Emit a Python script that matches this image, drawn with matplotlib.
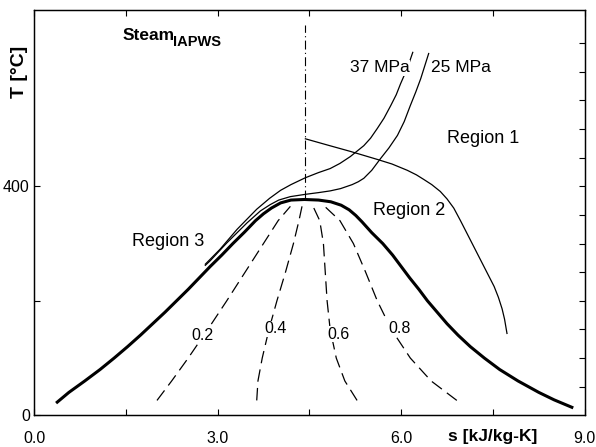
import matplotlib
matplotlib.use("Agg")
import matplotlib.pyplot as plt

# ---- data ----
dome_s = [0.38, 0.57, 0.83, 1.08, 1.31, 1.53, 1.74, 1.94, 2.14, 2.33, 2.52, 2.70,
          2.88, 3.07, 3.25, 3.44, 3.62, 3.75, 3.88, 4.03, 4.20, 4.42,
          4.65, 4.85, 5.02, 5.15, 5.26, 5.36, 5.52, 5.70, 5.86, 6.00, 6.14, 6.29,
          6.43, 6.59, 6.75, 6.93, 7.13, 7.36, 7.61, 7.91, 8.25, 8.50, 8.79]
dome_T = [23, 40, 60, 80, 100, 120, 140, 160, 180, 200, 220, 240,
          260, 280, 300, 320, 340, 352, 362, 371, 376, 377,
          376, 373, 367, 359, 349, 338, 319, 300, 280, 260, 240, 220,
          200, 180, 160, 140, 120, 100, 80, 60, 40, 27, 14]

qual_T = [26, 60, 100, 150, 200, 250, 300, 340, 365]
q02_s = [2.01, 2.25, 2.52, 2.84, 3.15, 3.45, 3.75, 3.99, 4.19]
q04_s = [3.64, 3.66, 3.73, 3.84, 3.97, 4.11, 4.24, 4.33, 4.38]
q06_s = [5.28, 5.08, 4.94, 4.84, 4.79, 4.76, 4.73, 4.67, 4.56]
q08_s = [6.91, 6.49, 6.15, 5.84, 5.61, 5.42, 5.22, 5.00, 4.75]
qual_labels = ["0.2", "0.4", "0.6", "0.8"]
qual_label_s = [2.76, 3.94, 4.97, 5.97]
qual_label_T = [140, 151, 142, 152]

p25_s = [2.80, 2.88, 3.15, 3.48, 3.70, 3.86, 4.00, 4.19, 4.435, 4.65, 4.84, 5.01,
         5.20, 5.30, 5.39, 5.52, 5.66, 5.80, 5.94, 6.05, 6.15, 6.24, 6.32, 6.45]
p25_T = [262, 270, 301, 336, 357, 368, 376, 382, 386, 389, 392, 396,
         403, 408, 414, 428, 448, 467, 489, 513, 541, 565, 588, 632]
p37_s = [2.80, 3.04, 3.32, 3.64, 3.85, 4.03, 4.20, 4.435, 4.65, 4.84, 5.00, 5.17,
         5.39, 5.50, 5.61, 5.72, 5.83, 5.92, 5.99, 6.10, 6.19]
p37_T = [264, 290, 325, 360, 379, 393, 403, 415, 424, 431, 440, 452,
         471, 484, 501, 519, 541, 560, 579, 606, 634]

bound_s = [4.435, 4.80, 5.17, 5.61, 5.85, 6.10, 6.25, 6.37, 6.50, 6.64, 6.75, 6.86,
           6.97, 7.08, 7.19, 7.30, 7.41, 7.52, 7.59, 7.65, 7.69, 7.73]
bound_T = [483, 472, 461, 447, 439, 428, 420, 412, 403, 391, 378, 362,
           340, 317, 294, 271, 248, 225, 206, 186, 168, 143]

crit_s = [4.435, 4.435]
crit_T = [377, 682]

xticks = [0.0, 1.5, 3.0, 4.5, 6.0, 7.5, 9.0]
xticklabels = ["0.0", "", "3.0", "", "6.0", "", "9.0"]
yticks = [0, 200, 400]
yticklabels = ["0", "", "400"]
rticks = [50, 100, 150, 200, 250, 300, 350, 400, 450, 500, 550, 600, 650]

REG = ["Liberation Sans", "DejaVu Sans"]

W, H = 596, 447
fig = plt.figure(figsize=(W / 100, H / 100), dpi=100)
ax = fig.add_axes([34 / W, (H - 415.3) / H, (584.7 - 34) / W, (415.3 - 10) / H])
ax.set_xlim(0, 9)
ax.set_ylim(0, 708)

# saturation dome
ax.plot(dome_s, dome_T, color="black", lw=2.2, solid_joinstyle="round", zorder=4)

# quality lines
for qs, lab, ls_, lt in zip([q02_s, q04_s, q06_s, q08_s], qual_labels, qual_label_s, qual_label_T):
    ax.plot(qs, qual_T, color="black", lw=0.9, dashes=(10, 5), zorder=3)
    ax.text(ls_, lt, lab, family=REG, fontsize=11.5, ha="center", va="center",
            bbox=dict(facecolor="white", edgecolor="none", pad=0.5), zorder=6)

# isobars and boundary
ax.plot(p25_s, p25_T, color="black", lw=0.9, zorder=3)
ax.plot(p37_s, p37_T, color="black", lw=0.9, zorder=3)
ax.plot(bound_s, bound_T, color="black", lw=0.9, zorder=3)
ax.plot(crit_s, crit_T, color="black", lw=0.8, dashes=(8, 3, 1, 3), zorder=3)

# annotations
ax.text(5.65, 607, "37 MPa", family=REG, fontsize=12.5, ha="center", va="center",
        bbox=dict(facecolor="white", edgecolor="none", pad=0.3), zorder=6)
ax.text(6.97, 607, "25 MPa", family=REG, fontsize=12.5, ha="center", va="center", zorder=6)
ax.text(7.34, 483, "Region 1", family=REG, fontsize=13, ha="center", va="center")
ax.text(6.13, 357, "Region 2", family=REG, fontsize=13, ha="center", va="center")
ax.text(2.19, 304, "Region 3", family=REG, fontsize=13, ha="center", va="center")

# ticks
ax.set_xticks(xticks)
ax.set_xticklabels(xticklabels, family=REG, fontsize=11.5)
ax.set_yticks(yticks)
ax.set_yticklabels(yticklabels, family=REG, fontsize=11.5)
ax.tick_params(axis="x", direction="in", length=4, width=0.8, pad=11, top=True)
ax.tick_params(axis="y", direction="in", length=4, width=0.8, pad=3)
ax2 = ax.twinx()
ax2.set_ylim(0, 708)
ax2.set_yticks(rticks)
ax2.set_yticklabels([])
ax2.tick_params(axis="y", direction="in", length=4, width=0.8)
for a in (ax, ax2):
    for sp in a.spines.values():
        sp.set_linewidth(0.9)

# titles / labels in pixel coordinates
fig.text(123 / W, (H - 40) / H, "Steam", family=REG, fontsize=12.5, fontweight="bold",
         ha="left", va="baseline")
fig.text(173 / W, (H - 46.5) / H, "IAPWS", family=REG, fontsize=10.5, fontweight="bold",
         ha="left", va="baseline")
fig.text(19 / W, (H - 72) / H, "T [°C]", family=REG, fontsize=14, fontweight="bold",
         rotation=90, ha="center", va="center")
fig.text(492.5 / W, (H - 437) / H, "s [kJ/kg-K]", family=REG, fontsize=12.5,
         fontweight="bold", ha="center", va="center")

fig.savefig("out.png", dpi=100)
